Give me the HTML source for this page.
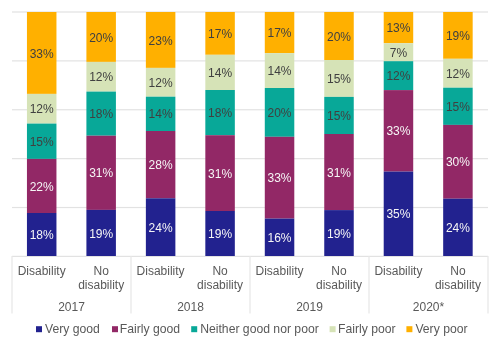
<!DOCTYPE html><html><head><meta charset="utf-8"><style>
html,body{margin:0;padding:0;background:#fff;}
body{width:500px;height:345px;position:relative;overflow:hidden;font-family:"Liberation Sans",sans-serif;}
svg{position:absolute;left:0;top:0;}
#t{position:absolute;left:0;top:0;width:500px;height:345px;will-change:transform;}
.l{position:absolute;font-size:12px;line-height:14px;text-align:center;white-space:nowrap;width:60px;}
.c{position:absolute;font-size:12px;line-height:14px;text-align:center;white-space:nowrap;color:#595959;width:80px;}
.lg{position:absolute;font-size:12.2px;line-height:14px;color:#595959;white-space:nowrap;top:322.1px;}
</style></head><body>
<svg width="500" height="345" viewBox="0 0 500 345">
<rect x="12" y="11.40" width="476" height="1.2" fill="#E2E2E2"/>
<rect x="12" y="60.28" width="476" height="1.2" fill="#E2E2E2"/>
<rect x="12" y="109.16" width="476" height="1.2" fill="#E2E2E2"/>
<rect x="12" y="158.04" width="476" height="1.2" fill="#E2E2E2"/>
<rect x="12" y="206.92" width="476" height="1.2" fill="#E2E2E2"/>
<rect x="12" y="255.80" width="476" height="1.2" fill="#E2E2E2"/>
<rect x="11.40" y="256" width="1.2" height="57.5" fill="#E6E6E6"/>
<rect x="130.40" y="256" width="1.2" height="57.5" fill="#E6E6E6"/>
<rect x="249.40" y="256" width="1.2" height="57.5" fill="#E6E6E6"/>
<rect x="368.40" y="256" width="1.2" height="57.5" fill="#E6E6E6"/>
<rect x="487.40" y="256" width="1.2" height="57.5" fill="#E6E6E6"/>
<rect x="26.950" y="12.00" width="29.5" height="81.90" fill="#FFB000"/>
<rect x="26.950" y="93.90" width="29.5" height="29.70" fill="#D6E3B7"/>
<rect x="26.950" y="123.60" width="29.5" height="35.30" fill="#08A898"/>
<rect x="26.950" y="158.90" width="29.5" height="54.10" fill="#922866"/>
<rect x="26.950" y="213.00" width="29.5" height="43.00" fill="#22228F"/>
<rect x="86.410" y="12.00" width="29.5" height="49.90" fill="#FFB000"/>
<rect x="86.410" y="61.90" width="29.5" height="29.70" fill="#D6E3B7"/>
<rect x="86.410" y="91.60" width="29.5" height="44.10" fill="#08A898"/>
<rect x="86.410" y="135.70" width="29.5" height="74.20" fill="#922866"/>
<rect x="86.410" y="209.90" width="29.5" height="46.10" fill="#22228F"/>
<rect x="145.870" y="12.00" width="29.5" height="55.90" fill="#FFB000"/>
<rect x="145.870" y="67.90" width="29.5" height="28.80" fill="#D6E3B7"/>
<rect x="145.870" y="96.70" width="29.5" height="34.30" fill="#08A898"/>
<rect x="145.870" y="131.00" width="29.5" height="67.30" fill="#922866"/>
<rect x="145.870" y="198.30" width="29.5" height="57.70" fill="#22228F"/>
<rect x="205.330" y="12.00" width="29.5" height="42.80" fill="#FFB000"/>
<rect x="205.330" y="54.80" width="29.5" height="35.20" fill="#D6E3B7"/>
<rect x="205.330" y="90.00" width="29.5" height="45.20" fill="#08A898"/>
<rect x="205.330" y="135.20" width="29.5" height="75.80" fill="#922866"/>
<rect x="205.330" y="211.00" width="29.5" height="45.00" fill="#22228F"/>
<rect x="264.790" y="12.00" width="29.5" height="41.10" fill="#FFB000"/>
<rect x="264.790" y="53.10" width="29.5" height="34.90" fill="#D6E3B7"/>
<rect x="264.790" y="88.00" width="29.5" height="48.80" fill="#08A898"/>
<rect x="264.790" y="136.80" width="29.5" height="81.80" fill="#922866"/>
<rect x="264.790" y="218.60" width="29.5" height="37.40" fill="#22228F"/>
<rect x="324.250" y="12.00" width="29.5" height="48.00" fill="#FFB000"/>
<rect x="324.250" y="60.00" width="29.5" height="36.90" fill="#D6E3B7"/>
<rect x="324.250" y="96.90" width="29.5" height="37.10" fill="#08A898"/>
<rect x="324.250" y="134.00" width="29.5" height="76.10" fill="#922866"/>
<rect x="324.250" y="210.10" width="29.5" height="45.90" fill="#22228F"/>
<rect x="383.710" y="12.00" width="29.5" height="31.20" fill="#FFB000"/>
<rect x="383.710" y="43.20" width="29.5" height="18.00" fill="#D6E3B7"/>
<rect x="383.710" y="61.20" width="29.5" height="28.90" fill="#08A898"/>
<rect x="383.710" y="90.10" width="29.5" height="81.50" fill="#922866"/>
<rect x="383.710" y="171.60" width="29.5" height="84.40" fill="#22228F"/>
<rect x="443.170" y="12.00" width="29.5" height="46.80" fill="#FFB000"/>
<rect x="443.170" y="58.80" width="29.5" height="28.90" fill="#D6E3B7"/>
<rect x="443.170" y="87.70" width="29.5" height="37.20" fill="#08A898"/>
<rect x="443.170" y="124.90" width="29.5" height="73.80" fill="#922866"/>
<rect x="443.170" y="198.70" width="29.5" height="57.30" fill="#22228F"/>
<rect x="36.00" y="326.2" width="6" height="6" fill="#22228F"/>
<rect x="112.00" y="326.2" width="6" height="6" fill="#922866"/>
<rect x="191.20" y="326.2" width="6" height="6" fill="#08A898"/>
<rect x="329.60" y="326.2" width="6" height="6" fill="#D6E3B7"/>
<rect x="406.40" y="326.2" width="6" height="6" fill="#FFB000"/>
</svg><div id="t">
<div class="l" style="left:11.70px;top:46.55px;color:#404040">33%</div>
<div class="l" style="left:11.70px;top:102.35px;color:#404040">12%</div>
<div class="l" style="left:11.70px;top:134.85px;color:#404040">15%</div>
<div class="l" style="left:11.70px;top:179.55px;color:#F6F6F6">22%</div>
<div class="l" style="left:11.70px;top:228.10px;color:#F6F6F6">18%</div>
<div class="l" style="left:71.16px;top:30.55px;color:#404040">20%</div>
<div class="l" style="left:71.16px;top:70.35px;color:#404040">12%</div>
<div class="l" style="left:71.16px;top:107.25px;color:#404040">18%</div>
<div class="l" style="left:71.16px;top:166.40px;color:#F6F6F6">31%</div>
<div class="l" style="left:71.16px;top:226.55px;color:#F6F6F6">19%</div>
<div class="l" style="left:130.62px;top:33.55px;color:#404040">23%</div>
<div class="l" style="left:130.62px;top:75.90px;color:#404040">12%</div>
<div class="l" style="left:130.62px;top:107.45px;color:#404040">14%</div>
<div class="l" style="left:130.62px;top:158.25px;color:#F6F6F6">28%</div>
<div class="l" style="left:130.62px;top:220.75px;color:#F6F6F6">24%</div>
<div class="l" style="left:190.08px;top:27.00px;color:#404040">17%</div>
<div class="l" style="left:190.08px;top:66.00px;color:#404040">14%</div>
<div class="l" style="left:190.08px;top:106.20px;color:#404040">18%</div>
<div class="l" style="left:190.08px;top:166.70px;color:#F6F6F6">31%</div>
<div class="l" style="left:190.08px;top:227.10px;color:#F6F6F6">19%</div>
<div class="l" style="left:249.54px;top:26.15px;color:#404040">17%</div>
<div class="l" style="left:249.54px;top:64.15px;color:#404040">14%</div>
<div class="l" style="left:249.54px;top:106.00px;color:#404040">20%</div>
<div class="l" style="left:249.54px;top:171.30px;color:#F6F6F6">33%</div>
<div class="l" style="left:249.54px;top:230.90px;color:#F6F6F6">16%</div>
<div class="l" style="left:309.00px;top:29.60px;color:#404040">20%</div>
<div class="l" style="left:309.00px;top:72.05px;color:#404040">15%</div>
<div class="l" style="left:309.00px;top:109.05px;color:#404040">15%</div>
<div class="l" style="left:309.00px;top:165.65px;color:#F6F6F6">31%</div>
<div class="l" style="left:309.00px;top:226.65px;color:#F6F6F6">19%</div>
<div class="l" style="left:368.46px;top:21.20px;color:#404040">13%</div>
<div class="l" style="left:368.46px;top:45.80px;color:#404040">7%</div>
<div class="l" style="left:368.46px;top:69.25px;color:#404040">12%</div>
<div class="l" style="left:368.46px;top:124.45px;color:#F6F6F6">33%</div>
<div class="l" style="left:368.46px;top:207.40px;color:#F6F6F6">35%</div>
<div class="l" style="left:427.92px;top:29.00px;color:#404040">19%</div>
<div class="l" style="left:427.92px;top:66.85px;color:#404040">12%</div>
<div class="l" style="left:427.92px;top:99.90px;color:#404040">15%</div>
<div class="l" style="left:427.92px;top:155.40px;color:#F6F6F6">30%</div>
<div class="l" style="left:427.92px;top:220.95px;color:#F6F6F6">24%</div>
<div class="c" style="left:1.70px;top:264px">Disability</div>
<div class="c" style="left:61.16px;top:264px">No<br>disability</div>
<div class="c" style="left:31.50px;top:299.7px">2017</div>
<div class="c" style="left:120.62px;top:264px">Disability</div>
<div class="c" style="left:180.08px;top:264px">No<br>disability</div>
<div class="c" style="left:150.50px;top:299.7px">2018</div>
<div class="c" style="left:239.54px;top:264px">Disability</div>
<div class="c" style="left:299.00px;top:264px">No<br>disability</div>
<div class="c" style="left:269.50px;top:299.7px">2019</div>
<div class="c" style="left:358.46px;top:264px">Disability</div>
<div class="c" style="left:417.92px;top:264px">No<br>disability</div>
<div class="c" style="left:388.50px;top:299.7px">2020*</div>
<div class="lg" style="left:45.00px">Very good</div>
<div class="lg" style="left:119.80px">Fairly good</div>
<div class="lg" style="left:200.20px">Neither good nor poor</div>
<div class="lg" style="left:338.00px">Fairly poor</div>
<div class="lg" style="left:415.40px">Very poor</div>
</div></body></html>
